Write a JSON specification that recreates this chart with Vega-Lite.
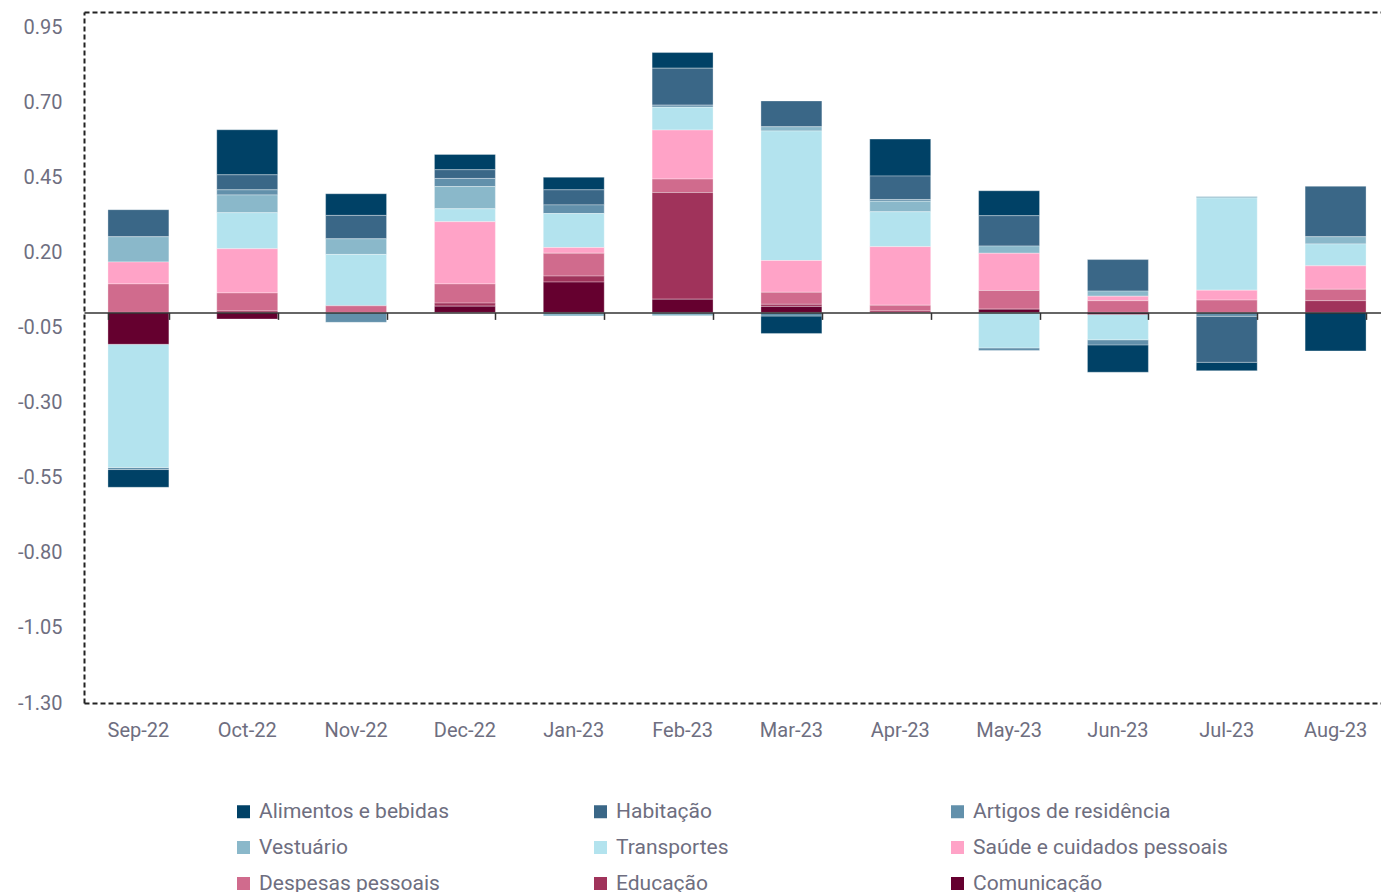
{
  "$schema": "https://vega.github.io/schema/vega-lite/v6.json",
  "width": 1297,
  "height": 691,
  "autosize": {"type": "none"},
  "padding": {"left": 84, "top": 12, "right": 0, "bottom": 189},
  "background": "white",
  "config": {"font": "Roboto", "view": {"stroke": null}},
  "datasets": {
    "ordem": [
      {"categoria": "Comunicação", "ordem": 1},
      {"categoria": "Educação", "ordem": 2},
      {"categoria": "Despesas pessoais", "ordem": 3},
      {"categoria": "Saúde e cuidados pessoais", "ordem": 4},
      {"categoria": "Transportes", "ordem": 5},
      {"categoria": "Vestuário", "ordem": 6},
      {"categoria": "Artigos de residência", "ordem": 7},
      {"categoria": "Habitação", "ordem": 8},
      {"categoria": "Alimentos e bebidas", "ordem": 9}
    ],
    "valores": [
      {"mes": "Sep-22", "categoria": "Alimentos e bebidas", "valor": -0.059},
      {"mes": "Sep-22", "categoria": "Habitação", "valor": 0.090},
      {"mes": "Sep-22", "categoria": "Artigos de residência", "valor": -0.007},
      {"mes": "Sep-22", "categoria": "Vestuário", "valor": 0.084},
      {"mes": "Sep-22", "categoria": "Transportes", "valor": -0.410},
      {"mes": "Sep-22", "categoria": "Saúde e cuidados pessoais", "valor": 0.073},
      {"mes": "Sep-22", "categoria": "Despesas pessoais", "valor": 0.095},
      {"mes": "Sep-22", "categoria": "Comunicação", "valor": -0.106},

      {"mes": "Oct-22", "categoria": "Alimentos e bebidas", "valor": 0.150},
      {"mes": "Oct-22", "categoria": "Habitação", "valor": 0.050},
      {"mes": "Oct-22", "categoria": "Artigos de residência", "valor": 0.017},
      {"mes": "Oct-22", "categoria": "Vestuário", "valor": 0.059},
      {"mes": "Oct-22", "categoria": "Transportes", "valor": 0.120},
      {"mes": "Oct-22", "categoria": "Saúde e cuidados pessoais", "valor": 0.147},
      {"mes": "Oct-22", "categoria": "Despesas pessoais", "valor": 0.060},
      {"mes": "Oct-22", "categoria": "Educação", "valor": 0.005},
      {"mes": "Oct-22", "categoria": "Comunicação", "valor": -0.022},

      {"mes": "Nov-22", "categoria": "Alimentos e bebidas", "valor": 0.072},
      {"mes": "Nov-22", "categoria": "Habitação", "valor": 0.078},
      {"mes": "Nov-22", "categoria": "Artigos de residência", "valor": -0.033},
      {"mes": "Nov-22", "categoria": "Vestuário", "valor": 0.052},
      {"mes": "Nov-22", "categoria": "Transportes", "valor": 0.171},
      {"mes": "Nov-22", "categoria": "Despesas pessoais", "valor": 0.022},

      {"mes": "Dec-22", "categoria": "Alimentos e bebidas", "valor": 0.051},
      {"mes": "Dec-22", "categoria": "Habitação", "valor": 0.029},
      {"mes": "Dec-22", "categoria": "Artigos de residência", "valor": 0.027},
      {"mes": "Dec-22", "categoria": "Vestuário", "valor": 0.074},
      {"mes": "Dec-22", "categoria": "Transportes", "valor": 0.043},
      {"mes": "Dec-22", "categoria": "Saúde e cuidados pessoais", "valor": 0.207},
      {"mes": "Dec-22", "categoria": "Despesas pessoais", "valor": 0.064},
      {"mes": "Dec-22", "categoria": "Educação", "valor": 0.010},
      {"mes": "Dec-22", "categoria": "Comunicação", "valor": 0.021},

      {"mes": "Jan-23", "categoria": "Alimentos e bebidas", "valor": 0.042},
      {"mes": "Jan-23", "categoria": "Habitação", "valor": 0.050},
      {"mes": "Jan-23", "categoria": "Artigos de residência", "valor": 0.029},
      {"mes": "Jan-23", "categoria": "Vestuário", "valor": -0.012},
      {"mes": "Jan-23", "categoria": "Transportes", "valor": 0.113},
      {"mes": "Jan-23", "categoria": "Saúde e cuidados pessoais", "valor": 0.019},
      {"mes": "Jan-23", "categoria": "Despesas pessoais", "valor": 0.076},
      {"mes": "Jan-23", "categoria": "Educação", "valor": 0.020},
      {"mes": "Jan-23", "categoria": "Comunicação", "valor": 0.101},

      {"mes": "Feb-23", "categoria": "Alimentos e bebidas", "valor": 0.052},
      {"mes": "Feb-23", "categoria": "Habitação", "valor": 0.123},
      {"mes": "Feb-23", "categoria": "Artigos de residência", "valor": 0.007},
      {"mes": "Feb-23", "categoria": "Vestuário", "valor": -0.011},
      {"mes": "Feb-23", "categoria": "Transportes", "valor": 0.076},
      {"mes": "Feb-23", "categoria": "Saúde e cuidados pessoais", "valor": 0.163},
      {"mes": "Feb-23", "categoria": "Despesas pessoais", "valor": 0.045},
      {"mes": "Feb-23", "categoria": "Educação", "valor": 0.355},
      {"mes": "Feb-23", "categoria": "Comunicação", "valor": 0.044},

      {"mes": "Mar-23", "categoria": "Alimentos e bebidas", "valor": -0.058},
      {"mes": "Mar-23", "categoria": "Habitação", "valor": 0.086},
      {"mes": "Mar-23", "categoria": "Artigos de residência", "valor": -0.012},
      {"mes": "Mar-23", "categoria": "Vestuário", "valor": 0.014},
      {"mes": "Mar-23", "categoria": "Transportes", "valor": 0.431},
      {"mes": "Mar-23", "categoria": "Saúde e cuidados pessoais", "valor": 0.106},
      {"mes": "Mar-23", "categoria": "Despesas pessoais", "valor": 0.040},
      {"mes": "Mar-23", "categoria": "Educação", "valor": 0.007},
      {"mes": "Mar-23", "categoria": "Comunicação", "valor": 0.020},

      {"mes": "Apr-23", "categoria": "Alimentos e bebidas", "valor": 0.123},
      {"mes": "Apr-23", "categoria": "Habitação", "valor": 0.078},
      {"mes": "Apr-23", "categoria": "Artigos de residência", "valor": 0.006},
      {"mes": "Apr-23", "categoria": "Vestuário", "valor": 0.035},
      {"mes": "Apr-23", "categoria": "Transportes", "valor": 0.116},
      {"mes": "Apr-23", "categoria": "Saúde e cuidados pessoais", "valor": 0.195},
      {"mes": "Apr-23", "categoria": "Despesas pessoais", "valor": 0.019},
      {"mes": "Apr-23", "categoria": "Educação", "valor": 0.005},

      {"mes": "May-23", "categoria": "Alimentos e bebidas", "valor": 0.083},
      {"mes": "May-23", "categoria": "Habitação", "valor": 0.101},
      {"mes": "May-23", "categoria": "Artigos de residência", "valor": -0.009},
      {"mes": "May-23", "categoria": "Vestuário", "valor": 0.024},
      {"mes": "May-23", "categoria": "Transportes", "valor": -0.118},
      {"mes": "May-23", "categoria": "Saúde e cuidados pessoais", "valor": 0.124},
      {"mes": "May-23", "categoria": "Despesas pessoais", "valor": 0.062},
      {"mes": "May-23", "categoria": "Comunicação", "valor": 0.011},

      {"mes": "Jun-23", "categoria": "Alimentos e bebidas", "valor": -0.091},
      {"mes": "Jun-23", "categoria": "Habitação", "valor": 0.105},
      {"mes": "Jun-23", "categoria": "Artigos de residência", "valor": -0.017},
      {"mes": "Jun-23", "categoria": "Vestuário", "valor": 0.017},
      {"mes": "Jun-23", "categoria": "Transportes", "valor": -0.084},
      {"mes": "Jun-23", "categoria": "Saúde e cuidados pessoais", "valor": 0.015},
      {"mes": "Jun-23", "categoria": "Despesas pessoais", "valor": 0.039},
      {"mes": "Jun-23", "categoria": "Comunicação", "valor": -0.007},

      {"mes": "Jul-23", "categoria": "Alimentos e bebidas", "valor": -0.028},
      {"mes": "Jul-23", "categoria": "Habitação", "valor": -0.153},
      {"mes": "Jul-23", "categoria": "Artigos de residência", "valor": -0.013},
      {"mes": "Jul-23", "categoria": "Vestuário", "valor": 0.005},
      {"mes": "Jul-23", "categoria": "Transportes", "valor": 0.307},
      {"mes": "Jul-23", "categoria": "Saúde e cuidados pessoais", "valor": 0.033},
      {"mes": "Jul-23", "categoria": "Despesas pessoais", "valor": 0.041},

      {"mes": "Aug-23", "categoria": "Alimentos e bebidas", "valor": -0.128},
      {"mes": "Aug-23", "categoria": "Habitação", "valor": 0.168},
      {"mes": "Aug-23", "categoria": "Vestuário", "valor": 0.024},
      {"mes": "Aug-23", "categoria": "Transportes", "valor": 0.073},
      {"mes": "Aug-23", "categoria": "Saúde e cuidados pessoais", "valor": 0.078},
      {"mes": "Aug-23", "categoria": "Despesas pessoais", "valor": 0.038},
      {"mes": "Aug-23", "categoria": "Educação", "valor": 0.039}
    ]
  },
  "data": {"name": "valores"},
  "transform": [
    {"lookup": "categoria", "from": {"data": {"name": "ordem"}, "key": "categoria", "fields": ["ordem"]}}
  ],
  "layer": [
    {
      "mark": {"type": "bar", "stroke": "#ffffff", "strokeWidth": 0.8, "strokeOpacity": 0.4},
      "encoding": {
        "x": {
          "field": "mes", "type": "nominal", "sort": null,
          "scale": {"range": [0, 1306], "paddingInner": 0.44, "paddingOuter": 0.22},
          "axis": {
            "orient": "bottom", "title": null, "labelAngle": 0, "ticks": false,
            "domain": true, "domainDash": [5, 3], "domainColor": "#222", "domainWidth": 2,
            "labelFontSize": 20, "labelColor": "#6e6e80", "labelPadding": 17
          }
        },
        "y": {
          "field": "valor", "type": "quantitative", "stack": "zero",
          "scale": {"domain": [-1.3, 1.0], "nice": false, "zero": false},
          "axis": {
            "title": null, "grid": false, "ticks": false,
            "values": [-1.3, -1.05, -0.8, -0.55, -0.3, -0.05, 0.2, 0.45, 0.7, 0.95],
            "format": ".2f", "labelExpr": "replace(datum.label, '\u2212', '-')",
            "labelFontSize": 20, "labelColor": "#6e6e80", "labelPadding": 22,
            "domain": true, "domainDash": [5, 3], "domainColor": "#222", "domainWidth": 2
          }
        },
        "color": {
          "field": "categoria", "type": "nominal",
          "scale": {
            "domain": ["Alimentos e bebidas", "Habitação", "Artigos de residência", "Vestuário", "Transportes", "Saúde e cuidados pessoais", "Despesas pessoais", "Educação", "Comunicação"],
            "range": ["#004166", "#3a6787", "#6290ab", "#8ab8ca", "#b3e3ee", "#ffa3c7", "#d06b8d", "#a0335b", "#65002f"]
          },
          "legend": {
            "orient": "none", "legendX": 149, "legendY": 789, "columns": 3, "direction": "horizontal",
            "title": null, "symbolType": "square", "symbolSize": 169, "symbolStrokeWidth": 0,
            "labelFontSize": 21, "labelColor": "#6e6e80", "labelOffset": 5, "labelLimit": 500,
            "rowPadding": 14, "columnPadding": 76, "gridAlign": "all", "padding": 0
          }
        },
        "order": {"field": "ordem", "type": "quantitative", "sort": "ascending"}
      }
    },
    {
      "mark": {"type": "rule", "strokeOpacity": 0},
      "encoding": {
        "x": {
          "field": "mes", "type": "nominal", "sort": null,
          "axis": {
            "orient": "bottom", "offset": -390.6, "title": null, "labels": false,
            "ticks": true, "tickBand": "extent", "tickSize": 7, "tickColor": "#333", "tickWidth": 1.5,
            "domain": true, "domainColor": "#333", "domainWidth": 1.5, "zindex": 1
          }
        }
      }
    },
    {
      "mark": {"type": "rule", "strokeOpacity": 0},
      "encoding": {
        "x": {
          "field": "mes", "type": "nominal", "sort": null,
          "axis": {
            "orient": "top", "title": null, "labels": false, "ticks": false,
            "domain": true, "domainDash": [5, 3], "domainColor": "#222", "domainWidth": 2
          }
        }
      }
    }
  ],
  "resolve": {"axis": {"x": "independent"}}
}
